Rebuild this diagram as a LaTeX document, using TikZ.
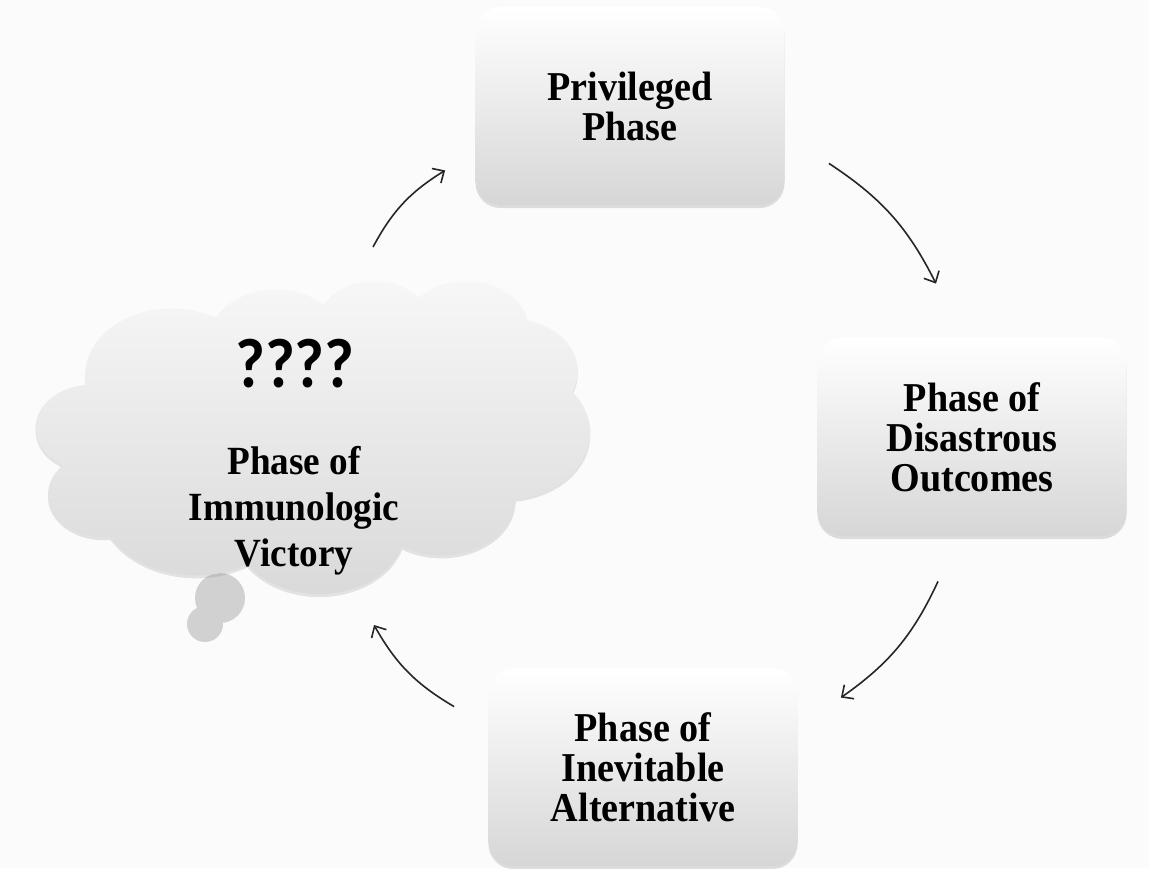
\documentclass[tikz,border=0pt]{standalone}
\usepackage{fontspec}
\setmainfont{Liberation Serif}[FakeStretch=0.93]
\newfontfamily\qmarkfont{Carlito}[FakeStretch=0.92]
\usetikzlibrary{arrows.meta,shadows}

\tikzset{
    phasebox/.style={rectangle, rounded corners=12.5pt, minimum width=154.5pt, minimum height=99pt,
        top color=white, bottom color=black!16, align=center,
        font=\bfseries\fontsize{20.5}{20}\selectfont,
        drop shadow={shadow xshift=0pt, shadow yshift=-1.5pt, opacity=0.25}},
    cloudfill/.style={top color=black!3, bottom color=black!15,
        drop shadow={shadow xshift=0pt, shadow yshift=-1.5pt, opacity=0.2}},
    cycarrow/.style={-{Straight Barb[length=4.5pt,width=8.5pt]}, line width=0.8pt, black!85}
}

\begin{document}
\begin{tikzpicture}[x=0.5pt,y=-0.5pt]
            \useasboundingbox[fill=black!1.5] (0,0) rectangle (1149,868);

            % the thought cloud and its tail
            \fill[black!18] (220,598) ellipse (25 and 25);
            \fill[black!18] (205,624) ellipse (18 and 18);
            \begin{scope}[shift={(36,280)}, x=0.06412pt, y=-0.036227pt]
                \path[cloudfill] (390,1437)
                    \foreach \wr/\hr/\st/\sw [evaluate=\st as \ts using {atan2(\wr*sin(\st),\hr*cos(\st))},
                        evaluate=\sw as \dt using {mod(atan2(\wr*sin(\st+\sw),\hr*cos(\st+\sw))-atan2(\wr*sin(\st),\hr*cos(\st))+720,360)}]
                    in {675.3/919.0/-190.487/123.781, 533.3/726.7/-144.102/89.945,
                        436.5/594.5/-145.808/99.723, 485.7/659.5/-130.986/117.242,
                        533.3/727.3/-78.709/109.027, 677.5/922.0/-46.267/130.269,
                        578.5/786.7/0.625/114.033, 675.2/921.5/22.452/115.173,
                        772.0/1054.3/66.243/75.711, 436.0/591.8/-274.942/146.736,
                        434.5/594.5/-246.829/152.519}
                    { arc[start angle=\ts, delta angle=\dt, x radius=\wr, y radius=\hr] } -- cycle;
            \end{scope}
            \coordinate (victory) at (313,436);
            \node[font=\qmarkfont\bfseries\fontsize{35}{36}\selectfont] (qmarks) at (295,364) {????};
            \node[align=center, font=\bfseries\fontsize{20}{23}\selectfont] (victorytext) at (294,511) {Phase of\\Immunologic\\Victory};

            % the three phases
            \node[phasebox] (privileged) at (630,106) {Privileged\\Phase};
            \node[phasebox] (disastrous) at (972,437) {Phase of\\Disastrous\\Outcomes};
            \node[phasebox] (inevitable) at (643,767) {Phase of\\Inevitable\\Alternative};

            \draw[cycarrow] ([shift={(60,-189)}]victory) to[bend left=15] ([shift={(-30,-35)}]privileged.south west);
            \draw[cycarrow] ([shift={(44,-42)}]privileged.south east) to[bend left=15] ([shift={(-36,-54)}]disastrous.north);
            \draw[cycarrow] ([shift={(-34,45)}]disastrous.south) to[bend left=15] ([shift={(43,30)}]inevitable.north east);
            \draw[cycarrow] ([shift={(-34,39)}]inevitable.north west) to[bend left=15] ([shift={(61,189)}]victory);

        \end{tikzpicture}
\end{document}
